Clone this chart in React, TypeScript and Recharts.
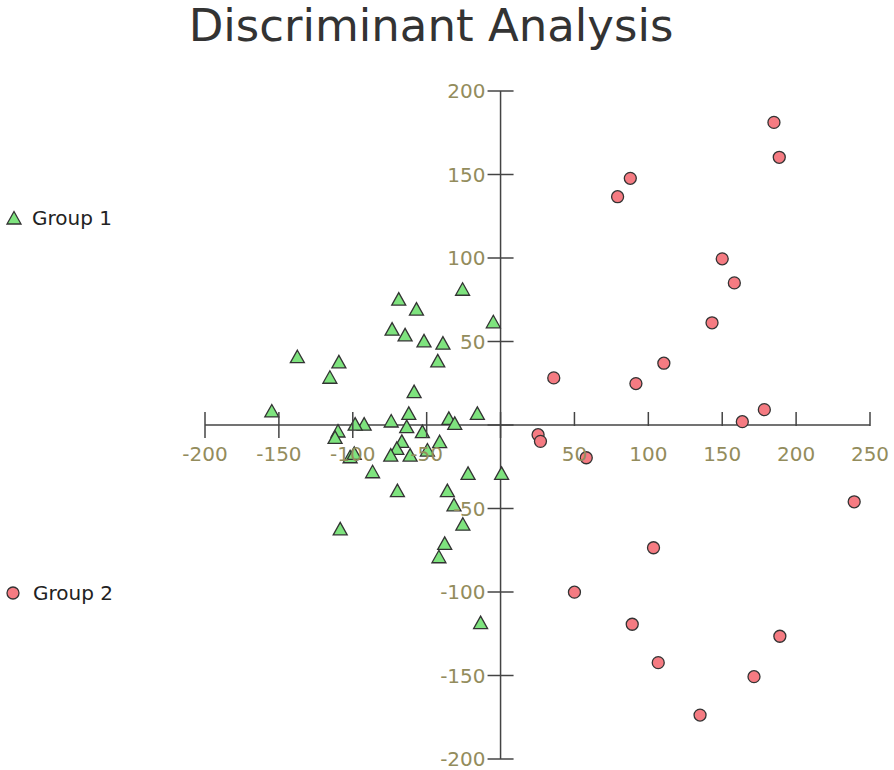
import React from 'react';
import { ScatterChart, Scatter, XAxis, YAxis, ReferenceLine } from 'recharts';

const group1 = [
  { x: -25.7, y: 81.3 }, { x: -68.9, y: 75.4 }, { x: -56.9, y: 69.4 }, { x: -4.9, y: 61.8 },
  { x: -73.4, y: 57.4 }, { x: -64.6, y: 54 }, { x: -51.8, y: 50.4 }, { x: -39, y: 49 },
  { x: -42.5, y: 38.4 }, { x: -137.5, y: 40.9 }, { x: -109.4, y: 37.8 }, { x: -115.5, y: 28.6 },
  { x: -58.5, y: 20 }, { x: -154.8, y: 8.4 }, { x: -15.7, y: 7 }, { x: -62.1, y: 7 },
  { x: -35, y: 4 }, { x: -31, y: 1 }, { x: -74, y: 2.4 }, { x: -92.3, y: 0.5 },
  { x: -98.4, y: 0.5 }, { x: -63.5, y: -1 }, { x: -110, y: -3.6 }, { x: -52.9, y: -4 },
  { x: -112, y: -7.4 }, { x: -66.8, y: -9.8 }, { x: -41.2, y: -10 }, { x: -70.2, y: -14 },
  { x: -74.3, y: -18 }, { x: -61.2, y: -18 }, { x: -49.5, y: -15 }, { x: -101.8, y: -19 },
  { x: -99, y: -17 }, { x: -86.6, y: -28 }, { x: -22, y: -29 }, { x: 0.7, y: -29 },
  { x: -69.8, y: -39.3 }, { x: -36, y: -39.3 }, { x: -31.5, y: -47.8 }, { x: -108.5, y: -62.2 },
  { x: -25.5, y: -59.4 }, { x: -37.8, y: -70.9 }, { x: -41.7, y: -78.9 }, { x: -13.5, y: -118.3 },
];

const group2 = [
  { x: 185, y: 181.2 }, { x: 188.6, y: 160.3 }, { x: 87.8, y: 147.7 }, { x: 79.2, y: 136.7 },
  { x: 150, y: 99.5 }, { x: 158.2, y: 85.1 }, { x: 143.1, y: 61.2 }, { x: 110.5, y: 37 },
  { x: 91.6, y: 24.8 }, { x: 36, y: 28.2 }, { x: 178.5, y: 9.2 }, { x: 163.6, y: 2 },
  { x: 25.4, y: -5.8 }, { x: 27, y: -9.8 }, { x: 58, y: -19.6 }, { x: 239.3, y: -46 },
  { x: 103.5, y: -73.5 }, { x: 50, y: -100.1 }, { x: 89.1, y: -119.3 }, { x: 189, y: -126.5 },
  { x: 106.7, y: -142.3 }, { x: 171.5, y: -150.7 }, { x: 135, y: -173.7 },
];

const xTicks = [-200, -150, -100, -50, 0, 50, 100, 150, 200, 250];
const yTicks = [-200, -150, -100, -50, 0, 50, 100, 150, 200];
const seriesNames = ['Group 1', 'Group 2'];

const W = 894;
const H = 770;
const AX = 1; // thickness reserved by each (invisible) axis band
const M = { top: 91, right: 24, bottom: 11 - AX, left: 205 - AX };
const plotLeft = M.left + AX;
const plotW = W - plotLeft - M.right;
const plotH = H - M.top - M.bottom - AX;
// axes cross at the origin
const originX = plotLeft + plotW * (200 / 450);
const originY = M.top + plotH * (200 / 400);

const GREEN = '#7ee37e';
const RED = '#f57b82';
const EDGE = '#333';
const LABEL = '#938c5c';
const AXIS = '#444';
const FONT = '"DejaVu Sans", Verdana, sans-serif';

function Triangle({ cx, cy }: any) {
  return (
    <path
      d={`M${cx},${cy - 6.5} L${cx + 7},${cy + 6} L${cx - 7},${cy + 6} Z`}
      fill={GREEN}
      stroke={EDGE}
      strokeWidth={1.3}
    />
  );
}

function Dot({ cx, cy }: any) {
  return <circle cx={cx} cy={cy} r={6} fill={RED} stroke={EDGE} strokeWidth={1.3} />;
}

function XTick({ x, payload }: any) {
  const v = payload.value;
  return (
    <g>
      <line x1={x} x2={x} y1={originY - 13} y2={v > 0 ? originY + 1 : originY + 13} stroke={AXIS} strokeWidth={1.5} />
      {v !== 0 && (
        <text x={x} y={originY + 36} textAnchor="middle" fill={LABEL} fontSize={20} fontFamily={FONT}>
          {v}
        </text>
      )}
    </g>
  );
}

function YTick({ y, payload }: any) {
  const v = payload.value;
  return (
    <g>
      <line x1={originX - 13} x2={originX + 13} y1={y} y2={y} stroke={AXIS} strokeWidth={1.5} />
      {v !== 0 && (
        <text x={originX - 15} y={y} dy="0.36em" textAnchor="end" fill={LABEL} fontSize={20} fontFamily={FONT}>
          {v}
        </text>
      )}
    </g>
  );
}

export default function App() {
  return (
    <div style={{ position: 'absolute', left: 0, top: 0, width: W, height: H, background: '#fff', fontFamily: FONT }}>
      <div
        style={{
          position: 'absolute', left: 0, width: 862, top: 1, textAlign: 'center',
          fontSize: 45, color: '#333', lineHeight: '50px',
        }}
      >
        Discriminant Analysis
      </div>

      {/* legend, one entry on each side of the x axis */}
      <div style={{ position: 'absolute', left: 5, top: 206, display: 'flex', alignItems: 'center', fontSize: 20, color: '#222' }}>
        <svg width={18} height={18}><path d="M9,2.5 L16,15 L2,15 Z" fill={GREEN} stroke={EDGE} strokeWidth={1.3} /></svg>
        <span style={{ marginLeft: 9 }}>{seriesNames[0]}</span>
      </div>
      <div style={{ position: 'absolute', left: 4, top: 581, display: 'flex', alignItems: 'center', fontSize: 20, color: '#222' }}>
        <svg width={18} height={18}><circle cx={9} cy={9} r={6} fill={RED} stroke={EDGE} strokeWidth={1.3} /></svg>
        <span style={{ marginLeft: 11 }}>{seriesNames[1]}</span>
      </div>

      <div style={{ position: 'absolute', left: 0, top: 0 }}>
        <ScatterChart width={W} height={H} margin={M}>
          <XAxis
            type="number"
            dataKey="x"
            domain={[-200, 250]}
            ticks={xTicks}
            interval={0}
            height={AX}
            axisLine={false}
            tickLine={false}
            tick={<XTick />}
          />
          <YAxis
            type="number"
            dataKey="y"
            domain={[-200, 200]}
            ticks={yTicks}
            interval={0}
            width={AX}
            axisLine={false}
            tickLine={false}
            tick={<YTick />}
          />
          <ReferenceLine x={0} stroke={AXIS} strokeWidth={1.5} />
          <ReferenceLine y={0} stroke={AXIS} strokeWidth={1.5} />
          <Scatter name={seriesNames[0]} data={group1} shape={<Triangle />} isAnimationActive={false} />
          <Scatter name={seriesNames[1]} data={group2} shape={<Dot />} isAnimationActive={false} />
        </ScatterChart>
      </div>
    </div>
  );
}
